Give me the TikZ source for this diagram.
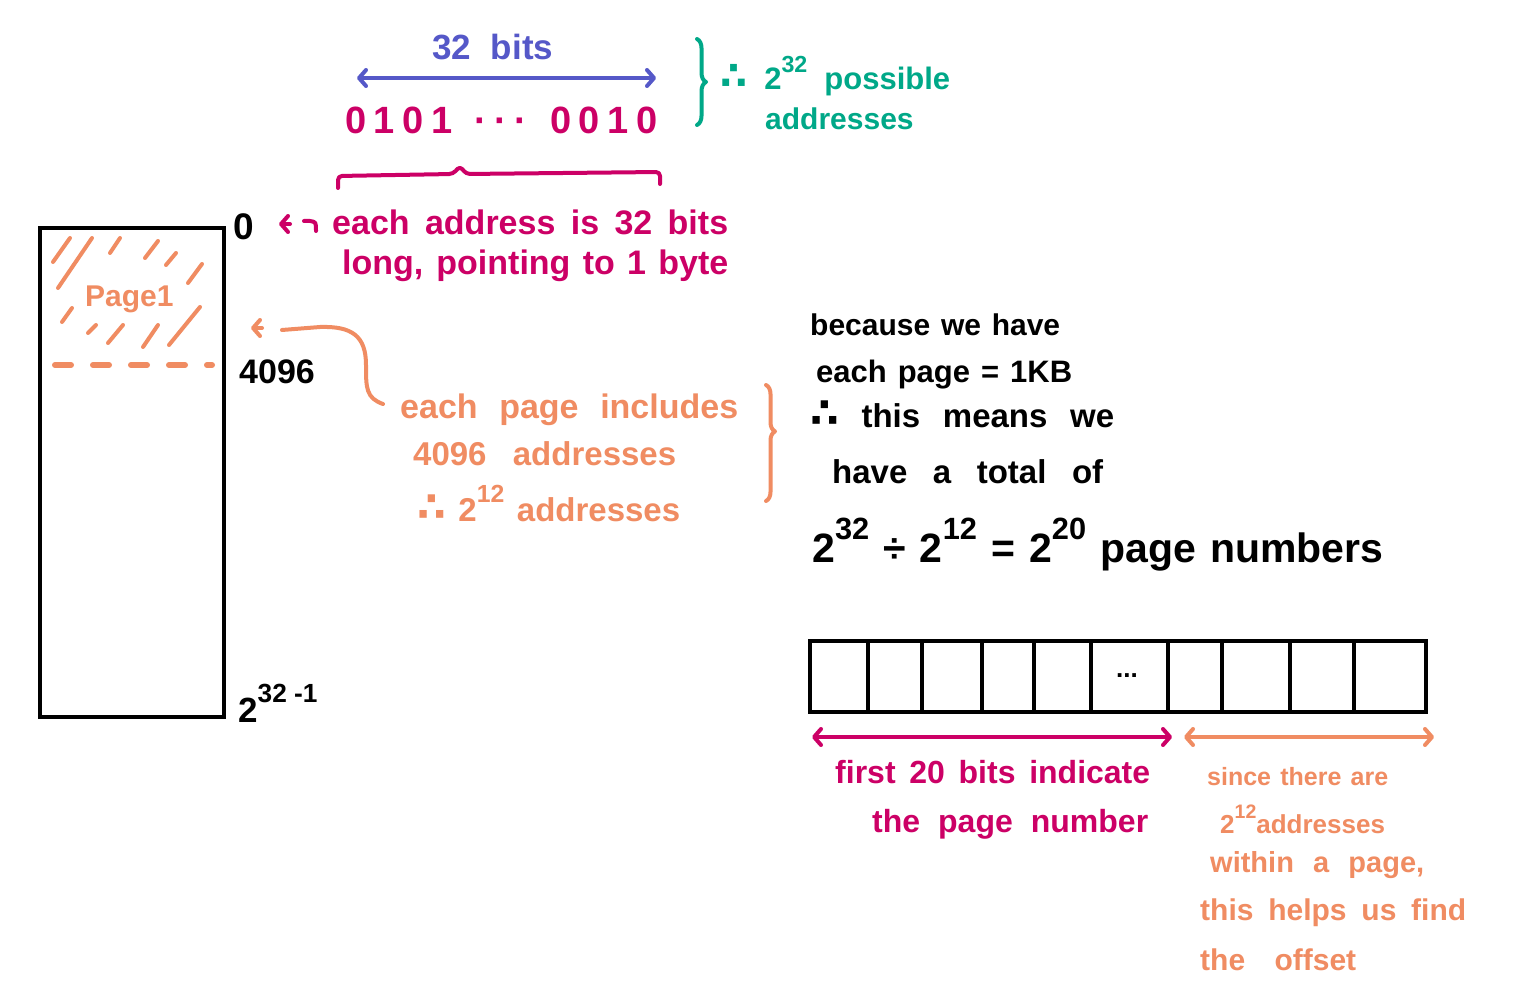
\documentclass[tikz,border=0pt]{standalone}
\usepackage{fontspec}
\setmainfont{Liberation Sans}
\newfontfamily\symf{DejaVu Sans}
\usetikzlibrary{arrows.meta,decorations.pathreplacing}
\definecolor{cblue}{RGB}{85,88,200}
\definecolor{cmag}{RGB}{204,0,102}
\definecolor{cteal}{RGB}{0,168,136}
\definecolor{corange}{RGB}{240,140,98}
\newcommand\pw[1]{\raisebox{0.55em}{\scalebox{0.75}{#1}}}
\newcommand\thf{{\symf\bfseries\scalebox{1.25}{∴}}}
\newcommand\hw[2]{\makebox[#1][s]{#2}}
\begin{document}
\begin{tikzpicture}[x=1pt,y=-1pt,
  hand/.style={line width=4pt,line cap=round,line join=round},
  barb/.tip={Straight Barb[length=7pt,width=16pt,round]},
  txt/.style={inner sep=0pt,anchor=base west,font=\bfseries\fontsize{#1}{#1}\selectfont},
  cell/.style={draw,line width=4pt,minimum height=71pt,inner sep=0pt}]
\useasboundingbox (0,0) rectangle (1521,1000);
\fill[white] (0,0) rectangle (1521,1000);

% ---------- top: 32 bits ----------
\node[txt=35,text=cblue] (bits) at (432,60) {\hw{121pt}{32 bits}};
\coordinate (bl) at (357,78); \coordinate (br) at (656,78);
\draw[cblue,hand,barb-barb] (bl) -- (br);
\node[txt=38,text=cmag] (addr) at (345,134) {\hw{312pt}{0\hfill1\hfill0\hfill1\hfill\hfill\hfill\textperiodcentered\hfill\textperiodcentered\hfill\textperiodcentered\hfill\hfill\hfill0\hfill0\hfill1\hfill0}};
\draw[cteal,hand,decorate,decoration={brace,amplitude=9pt}] (697,39) -- (697,125);
\node[txt=31,text=cteal] (poss) at (720,90) {\hw{230pt}{\thf{} 2\pw{32} possible}};
\node[txt=30,text=cteal] (poss2) at (765,130) {\hw{143pt}{addresses}};

% magenta brace
\draw[cmag,hand,rounded corners=4pt] (338,188) -- (338,176) -- (453,174) -- (460,166) -- (466,174) -- (660,172) -- (660,184);
\node[txt=34,text=cmag] (ea1) at (332,235) {\hw{396pt}{each address is 32 bits}};
\node[txt=34,text=cmag] (ea2) at (342,275) {\hw{386pt}{long, pointing to 1 byte}};

% ---------- memory column ----------
\node[draw,line width=4pt,minimum width=184pt,minimum height=489pt,inner sep=0pt] (mem) at (132,472.5) {};
\draw[corange,hand]
  (53,262)--(70,238) (58,288)--(92,238) (110,253)--(120,238) (145,258)--(158,241)
  (166,265)--(176,253) (188,283)--(202,264) (62,322)--(72,308) (88,333)--(96,325)
  (108,343)--(123,325) (143,347)--(158,325) (169,345)--(200,307);
\node[txt=30,text=corange] (page1) at (85,307) {Page1};
\draw[corange,line width=6pt,line cap=round,dash pattern=on 16pt off 22pt] (55,365) -- (212,365);

\node[txt=37] (l0) at (233,240) {0};
\node[txt=34] (l4096) at (239,383) {\hw{73pt}{4096}};
\node[txt=35] (lend) at (238,722) {2\pw{32 -1}};

\draw[cmag,hand,-barb] (290,224) -- (279,224);
\draw[cmag,hand] (304,221) -- (310,221) .. controls (316,222) .. (316,231);

% orange note + connector
\node[txt=34,text=corange] (pg1) at (400,418) {\hw{338pt}{each page includes}};
\node[txt=33,text=corange] (pg2) at (413,465) {\hw{263pt}{4096 addresses}};
\node[txt=33,text=corange] (pg3) at (417,521) {\hw{263pt}{\thf{} 2\pw{12} addresses}};
\coordinate (cstart) at (383,404);
\coordinate (cend) at (282,330);
\draw[corange,hand] (cstart) .. controls (366,398) and (366,388) .. (366,365)
   .. controls (366,336) and (352,326) .. (320,327) -- (cend);
\draw[corange,hand,-barb] (262,328) -- (251,328);
\draw[corange,hand,decorate,decoration={brace,amplitude=9pt,aspect=0.4}] (766,385) -- (766,501);

% ---------- black explanation ----------
\node[txt=30] (b1) at (810,336) {\hw{250pt}{because we have}};
\node[txt=31] (b2) at (816,382) {\hw{256pt}{each page = 1KB}};
\node[txt=33] (b3) at (810,427) {\hw{304pt}{\thf{} this means we}};
\node[txt=33] (b4) at (832,483) {\hw{271pt}{have a total of}};
\node[txt=41] (b5) at (812,562) {\hw{571pt}{2\pw{32} ÷ 2\pw{12} = 2\pw{20} page numbers}};

% ---------- table ----------
\foreach \n/\l/\r in {1/810/868,2/868/922,3/922/982,4/982/1034,5/1034/1091,6/1091/1168,7/1168/1222,8/1222/1290,9/1290/1354,10/1354/1426}
  \node[cell,minimum width={\r-\l}] (c\n) at ({(\l+\r)/2},676.5) {};
\node[font=\bfseries\fontsize{26}{26}\selectfont,inner sep=0pt] (dots) at (1127,676) {...};

\coordinate (m1) at (812,737); \coordinate (m2) at (1172,737);
\coordinate (o1) at (1184,737); \coordinate (o2) at (1434,737);
\draw[cmag,hand,barb-barb] (m1) -- (m2);
\draw[corange,hand,barb-barb] (o1) -- (o2);

\node[txt=32,text=cmag] (f1) at (835,783) {\hw{315pt}{first 20 bits indicate}};
\node[txt=32,text=cmag] (f2) at (872,832) {\hw{276pt}{the page number}};

\node[txt=25,text=corange] (s1) at (1207,785) {\hw{181pt}{since there are}};
\node[txt=26,text=corange] (s2) at (1220,833) {\hw{172pt}{2\pw{12}addresses}};
\node[txt=29,text=corange] (s3) at (1210,872) {\hw{214pt}{within a page,}};
\node[txt=30,text=corange] (s4) at (1200,920) {\hw{266pt}{this helps us find}};
\node[txt=30,text=corange] (s5) at (1200,970) {\hw{156pt}{the offset}};
\end{tikzpicture}
\end{document}
